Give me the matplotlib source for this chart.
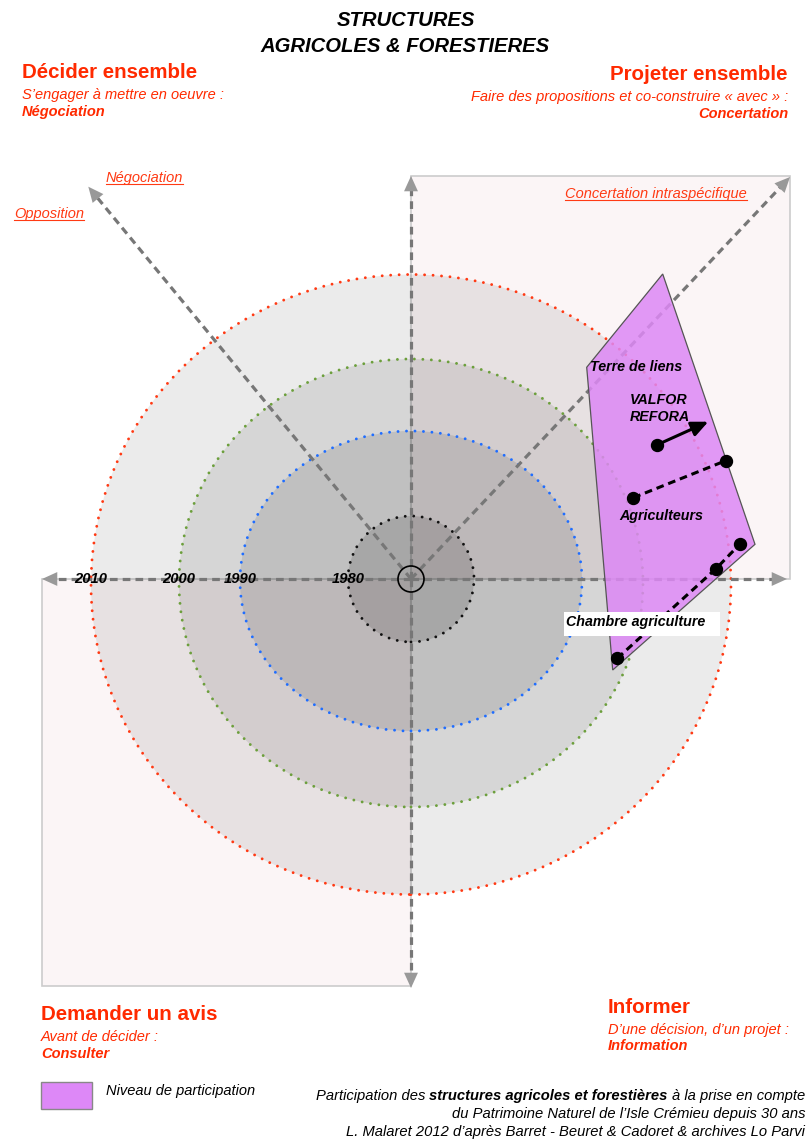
import matplotlib
matplotlib.use('Agg')
import matplotlib.pyplot as plt
from matplotlib.patches import Ellipse, Rectangle, Polygon, Circle, FancyArrowPatch
import numpy as np

plt.rcParams['font.family'] = ['Liberation Sans', 'DejaVu Sans']

# ---------------- data ----------------
years = [1980, 1990, 2000, 2010]
ring_rx = [63, 171, 232, 320]
ring_ry = [63, 150, 224, 310]

# participation polygon ("Niveau de participation")
niveau_x = [251.7, 175.7, 201.7, 344.0]
niveau_y = [305.0, 211.7, -91.0, 34.7]

# trajectories of structures
valfor_x = [245.7, 297.3]
valfor_y = [134.0, 157.3]
agri_x = [222.3, 314.7]
agri_y = [81.3, 118.3]
chambre_x = [206.3, 305.0, 329.0]
chambre_y = [-79.3, 10.3, 35.0]

# axis arrow tips (direction ends)
axis_tip_x = [-369, 376, 0, 0, -322.7, 379]
axis_tip_y = [0, 0, 403, -409, 392.3, 402]

# ---------------- layout / style ----------------
CX, CY = 411, 579          # pixel position of the diagram centre
ring_dy = [0, -2, -4, -5.5]
ring_colors = ['#111111', '#1f6dff', '#6c9f3c', '#ff3a14']
ring_alpha = [0.125, 0.10, 0.085, 0.08]
RED = '#ff2a00'
RED2 = '#ff3a14'

W, H = 809, 1139
fig = plt.figure(figsize=(W / 100, H / 100), dpi=100)
ax = fig.add_axes([0, 0, 1, 1])
ax.set_xlim(-CX, W - CX)
ax.set_ylim(-(H - CY), CY)
ax.axis('off')


def P(px, py):
    return px - CX, CY - py


# quadrant rectangles
ax.add_patch(Rectangle((0, 0), 379, 403, fc='#fbf5f6', ec='#cccccc', lw=1.2, zorder=1))
ax.add_patch(Rectangle((-369.3, -406.7), 369.3, 406.7, fc='#fbf5f6', ec='#cccccc', lw=1.2, zorder=1))

# rings (largest first)
for rx, ry, dy, col, al in reversed(list(zip(ring_rx, ring_ry, ring_dy, ring_colors, ring_alpha))):
    ax.add_patch(Ellipse((0, dy), 2 * rx, 2 * ry, fc=(0, 0, 0, al), ec='none', zorder=2))
    e = Ellipse((0, dy), 2 * rx, 2 * ry, fill=False, ec=col, lw=2.1,
                linestyle=(0, (0.01, 2.9)), zorder=3)
    e.set_capstyle('round')
    ax.add_patch(e)

# dashed axis arrows
for tx, ty in zip(axis_tip_x, axis_tip_y):
    L = np.hypot(tx, ty)
    ux, uy = tx / L, ty / L
    ax.plot([0, tx - ux * 12], [0, ty - uy * 12], color='#777777', lw=2.3,
            dashes=(2.4, 1.6), solid_capstyle='butt', zorder=4)
    ax.add_patch(FancyArrowPatch((tx - ux * 20, ty - uy * 20), (tx, ty),
                                 arrowstyle='-|>,head_length=11,head_width=5',
                                 mutation_scale=1, color='#999999', lw=0,
                                 shrinkA=0, shrinkB=0, zorder=4))

ax.add_patch(Circle((0, 0), 13, fill=False, ec='black', lw=1.2, zorder=5))

# participation polygon
ax.add_patch(Polygon(list(zip(niveau_x, niveau_y)), closed=True,
                     fc=(0.866, 0.533, 0.96, 0.85), ec='#555555', lw=0.9, zorder=6))

# trajectories
ax.plot(agri_x, agri_y, color='black', lw=2.2, dashes=(2.5, 1.6), zorder=7)
ax.plot(agri_x, agri_y, 'o', color='black', ms=8.6, zorder=8)
ax.plot(chambre_x, chambre_y, color='black', lw=2.2, dashes=(2.5, 1.6), zorder=7)
ax.plot(chambre_x, chambre_y, 'o', color='black', ms=8.6, zorder=8)
ax.plot(valfor_x[:1], valfor_y[:1], 'o', color='black', ms=8.6, zorder=8)
ax.annotate('', xy=(valfor_x[1], valfor_y[1]), xytext=(valfor_x[0], valfor_y[0]),
            arrowprops=dict(arrowstyle='-|>,head_length=10,head_width=4.5', mutation_scale=1,
                            color='black', lw=2.2, shrinkA=0, shrinkB=0), zorder=8)

# white label box
bx, by = P(564, 635.7)
ax.add_patch(Rectangle((bx, by), 156, 24, fc='white', ec='none', zorder=9))


def T(px, py, s, size, weight='normal', style='normal', color='black', ha='left', va='center', z=10):
    x, y = P(px, py)
    return ax.text(x, y, s, fontsize=size, fontweight=weight, fontstyle=style, color=color,
                   ha=ha, va=va, zorder=z)


# years on left axis
for yr, rx in zip(years, ring_rx):
    ax.text(-rx, 0, str(yr), fontsize=10.6, fontweight='bold', fontstyle='italic',
            ha='center', va='center', zorder=10)

# structure labels
T(590, 367, 'Terre de liens', 10.3, 'bold', 'italic')
T(630, 400, 'VALFOR', 10.3, 'bold', 'italic')
T(630, 417, 'REFORA', 10.3, 'bold', 'italic')
T(619, 516, 'Agriculteurs', 10.3, 'bold', 'italic')
T(566, 622, 'Chambre agriculture', 10.3, 'bold', 'italic')

# title
T(406, 20, 'STRUCTURES', 14.6, 'bold', 'italic', ha='center')
T(405, 46, 'AGRICOLES & FORESTIERES', 14.6, 'bold', 'italic', ha='center')

# corner headers
T(22, 73, 'Décider ensemble', 14.8, 'bold', color=RED)
T(22, 95, 'S’engager à mettre en oeuvre :', 10.5, style='italic', color=RED)
T(22, 112, 'Négociation', 10.5, 'bold', 'italic', color=RED)
T(788, 75, 'Projeter ensemble', 14.8, 'bold', color=RED, ha='right')
T(788, 97, 'Faire des propositions et co-construire « avec » :', 10.5, style='italic', color=RED, ha='right')
T(788, 114, 'Concertation', 10.5, 'bold', 'italic', color=RED, ha='right')
T(41, 1015, 'Demander un avis', 14.8, 'bold', color=RED)
T(41, 1036.7, 'Avant de décider :', 10.5, style='italic', color=RED)
T(41, 1054, 'Consulter', 10.5, 'bold', 'italic', color=RED)
T(608, 1007.7, 'Informer', 14.8, 'bold', color=RED)
T(608, 1030, 'D’une décision, d’un projet :', 10.5, style='italic', color=RED)
T(608, 1045.7, 'Information', 10.5, 'bold', 'italic', color=RED)

# underlined direction labels (baseline placed)
ul = [T(106, 182, 'Négociation', 10.5, style='italic', color=RED2, va='baseline'),
      T(14, 218, 'Opposition', 10.5, style='italic', color=RED2, va='baseline'),
      T(565, 198, 'Concertation intraspécifique', 10.5, style='italic', color=RED2, va='baseline')]

# legend
lx, ly = P(41, 1109)
ax.add_patch(Rectangle((lx, ly), 51, 27, fc='#dd88f7', ec='#888888', lw=1.0, zorder=10))
T(106, 1091, 'Niveau de participation', 10.55, style='italic')

# underline + caption (need text extents)
fig.canvas.draw()
r = fig.canvas.get_renderer()
inv = ax.transData.inverted()

for t in ul:
    bb = t.get_window_extent(r)
    x0, yb = inv.transform((bb.x0, 0))[0], t.get_position()[1] - 2.2
    x1 = inv.transform((bb.x1, 0))[0]
    ax.plot([x0, x1], [yb, yb], color=RED2, lw=0.8, zorder=10)

CAP = 10.6
cap_kw = dict(fontsize=CAP, fontstyle='italic', va='center', zorder=10)
pieces = [('Participation des ', 'normal'), ('structures agricoles et forestières', 'bold'),
          (' à la prise en compte', 'normal')]
sp = ax.text(0, 0, 'a a', **cap_kw)
sp2 = ax.text(0, 0, 'aa', **cap_kw)
spw = sp.get_window_extent(r).width - sp2.get_window_extent(r).width
sp.remove(); sp2.remove()
tmp = []
widths = []
for s, w in pieces:
    tt = ax.text(0, 0, s.strip(), fontweight=w, **cap_kw)
    widths.append(tt.get_window_extent(r).width)
    tmp.append(tt)
for tt in tmp:
    tt.remove()
total = sum(widths) + 2 * spw
xr_disp = ax.transData.transform(P(805, 0))[0]
xcur = xr_disp - total
_, ycap = P(0, 1096)
for (s, w), wd in zip(pieces, widths):
    xd = inv.transform((xcur, 0))[0]
    ax.text(xd, ycap, s.strip(), fontweight=w, ha='left', **cap_kw)
    xcur += wd + spw
T(805, 1114.3, 'du Patrimoine Naturel de l’Isle Crémieu depuis 30 ans', CAP, style='italic', ha='right')
T(805, 1131.7, 'L. Malaret 2012 d’après Barret - Beuret & Cadoret & archives Lo Parvi', CAP, style='italic', ha='right')

fig.savefig('out.png', dpi=100)
